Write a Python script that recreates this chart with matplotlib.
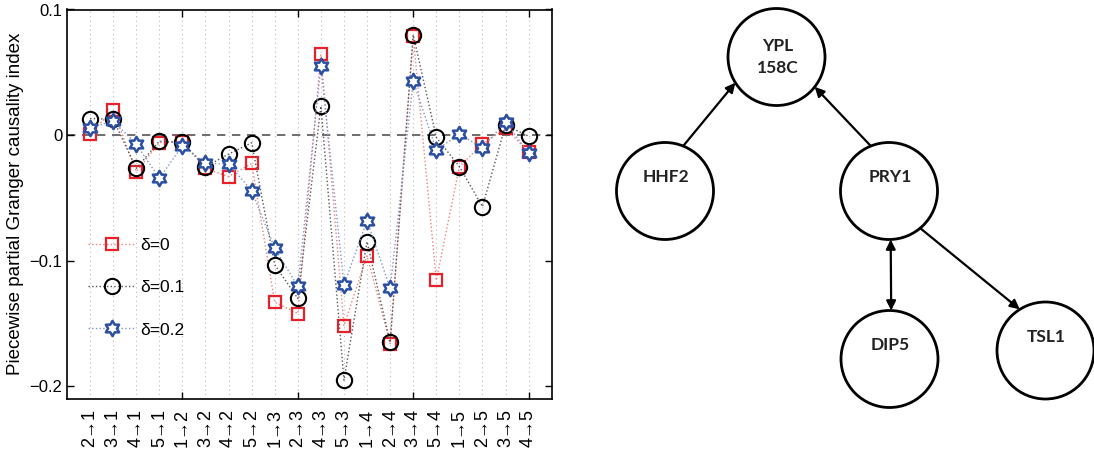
import numpy as np
import matplotlib.pyplot as plt
from matplotlib.path import Path
from matplotlib.patches import Circle

plt.rcParams['font.family'] = ['Liberation Sans', 'DejaVu Sans']

# Granger causality pairs (x axis)
pairs = ['2→1', '3→1', '4→1', '5→1', '1→2', '3→2', '4→2', '5→2', '1→3', '2→3',
         '4→3', '5→3', '1→4', '2→4', '3→4', '5→4', '1→5', '2→5', '3→5', '4→5']

gc_d0 = [0.0013, 0.0198, -0.029, -0.006, -0.0053, -0.0265, -0.033, -0.0225, -0.133, -0.142,
         0.0643, -0.1516, -0.096, -0.166, 0.079, -0.1156, -0.025, -0.007, 0.0053, -0.0132]
gc_d01 = [0.0132, 0.0127, -0.0265, -0.0048, -0.0058, -0.0251, -0.0151, -0.0061, -0.1032, -0.130,
          0.023, -0.195, -0.0847, -0.165, 0.0799, -0.0018, -0.025, -0.0569, 0.0079, -0.0008]
gc_d02 = [0.0053, 0.0114, -0.0071, -0.0344, -0.0085, -0.0225, -0.023, -0.0442, -0.0899, -0.1204,
          0.055, -0.119, -0.068, -0.122, 0.0431, -0.0119, 0.0008, -0.010, 0.0106, -0.0145]

# network nodes (right panel, pixel-like coords)
node_names = ['YPL\n158C', 'HHF2', 'PRY1', 'DIP5', 'TSL1']
node_x = [776.5, 665, 889, 889.5, 1045.5]
node_y = [57, 191, 191, 359, 350.5]
node_r = 48.5
# edges: source, angle on source, target, angle on target, two-headed
edge_src = [1, 2, 2, 2]
edge_src_ang = [68, 112, 272, 310]
edge_dst = [0, 0, 3, 4]
edge_dst_ang = [212, 322, 88, 122]
edge_both = [False, False, True, False]

# six-pointed star marker
ang = np.pi / 2 + np.arange(12) * np.pi / 6
rad = np.where(np.arange(12) % 2 == 0, 1.0, 1 / np.sqrt(3))
star_verts = np.column_stack([rad * np.cos(ang), rad * np.sin(ang)])
hexagram = Path(np.vstack([star_verts, star_verts[:1]]), closed=True)

fig = plt.figure(figsize=(10.94, 4.54), dpi=100)
ax = fig.add_axes([67 / 1094, 1 - 399 / 454, 484.7 / 1094, 389.5 / 454])

x = np.arange(1, len(pairs) + 1)
for xi in x:
    ax.axvline(xi, color='#bbbbbb', lw=0.8, ls=(0, (1, 3)), zorder=0)
ax.axhline(0, color='#555555', lw=1.2, ls=(0, (5, 4)), zorder=1)

red = '#e8202a'
blue = '#2b4fa3'
ax.plot(x, gc_d0, ls=':', lw=1.0, color='#f08080', marker='s', ms=8.5, mfc='none',
        mec=red, mew=1.6, label='δ=0', zorder=3)
ax.plot(x, gc_d01, ls=':', lw=1.0, color='#555555', marker='o', ms=11, mfc='none',
        mec='black', mew=1.5, label='δ=0.1', zorder=4)
ax.plot(x, gc_d02, ls=':', lw=1.0, color='#7f95cc', marker=hexagram, ms=11, mfc='white',
        mec=blue, mew=1.8, label='δ=0.2', zorder=5)

ax.set_xlim(0, 21)
ax.set_ylim(-0.21, 0.1)
ax.xaxis.remove_overlapping_locs = False
ax.set_xticks(x)
ax.set_xticklabels(pairs, rotation=90, fontsize=13)
ax.tick_params(axis='x', which='major', length=0, pad=7)
ax.set_xticks([5, 10, 15, 20], minor=True)
ax.tick_params(axis='x', which='minor', direction='in', length=5, top=True, width=1)
ax.set_yticks([0.1, 0, -0.1, -0.2])
ax.set_yticklabels(['0.1', '0', '−0.1', '−0.2'], fontsize=12)
ax.tick_params(axis='y', direction='in', length=5, right=True, width=1)
ax.set_ylabel('Piecewise partial Granger causality index', fontsize=13.5, labelpad=4)
for s in ax.spines.values():
    s.set_linewidth(1.2)

ax.legend(loc='lower left', bbox_to_anchor=(0.03, 0.14), frameon=False, fontsize=12.5,
          handlelength=2.7, handletextpad=0.3, labelspacing=1.55, borderaxespad=0)

# network diagram
ax2 = fig.add_axes([600 / 1094, 0, 494 / 1094, 1])
ax2.set_xlim(600, 1094)
ax2.set_ylim(454, 0)
ax2.axis('off')

for name, cx, cy in zip(node_names, node_x, node_y):
    ax2.add_patch(Circle((cx, cy), node_r, fill=False, lw=2.0, ec='black'))
    dy = 0 if '\n' in name else -14
    ax2.text(cx + 1, cy + dy, name, ha='center', va='center', fontsize=12.5,
             fontweight='bold', family='Lato', color='#222222', linespacing=1.5)

for s, sa, d, da, both in zip(edge_src, edge_src_ang, edge_dst, edge_dst_ang, edge_both):
    p0 = (node_x[s] + node_r * np.cos(np.radians(sa)), node_y[s] - node_r * np.sin(np.radians(sa)))
    p1 = (node_x[d] + node_r * np.cos(np.radians(da)), node_y[d] - node_r * np.sin(np.radians(da)))
    ax2.annotate('', xy=p1, xytext=p0,
                 arrowprops=dict(arrowstyle='<|-|>' if both else '-|>', color='black', lw=1.6,
                                 mutation_scale=14, shrinkA=0, shrinkB=0))

fig.savefig('out.png', dpi=100)
